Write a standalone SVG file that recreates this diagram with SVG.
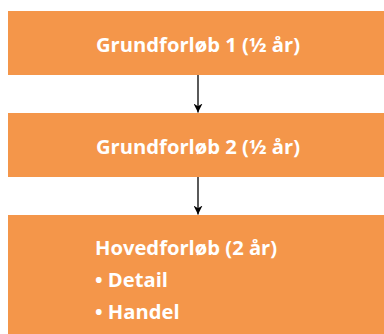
<svg xmlns="http://www.w3.org/2000/svg" width="384" height="334" viewBox="0 0 384 334">
<style>
.box{fill:#F4964A}
.t{font-family:"Open Sans","Noto Sans",sans-serif;font-weight:bold;font-size:20.2px;fill:#fff}
.c{stroke:#000;stroke-width:1.3;fill:none}
</style>
<defs>
<marker id="ah" viewBox="0 0 10 10" refX="10" refY="5" markerWidth="9" markerHeight="9" markerUnits="userSpaceOnUse" orient="auto">
<path d="M0,0 L10,5 L0,10 L3,5 z" fill="#000"/>
</marker>
</defs>
<rect width="384" height="334" fill="#fff"/>
<g id="n1"><rect class="box" x="8" y="11" width="376" height="64"/><text class="t" x="198" y="52" text-anchor="middle">Grundforløb 1 (½ år)</text></g>
<g id="n2"><rect class="box" x="8" y="113" width="376" height="64"/><text class="t" x="198" y="154" text-anchor="middle">Grundforløb 2 (½ år)</text></g>
<g id="n3"><rect class="box" x="8" y="215" width="376" height="119"/><text class="t" x="95" y="255">Hovedforløb (2 år)</text><text class="t" x="95" y="287">• Detail</text><text class="t" x="95" y="319">• Handel</text></g>
<g id="connectors">
<line class="c" x1="198" y1="75" x2="198" y2="112.5" marker-end="url(#ah)"/>
<line class="c" x1="198" y1="177" x2="198" y2="214.5" marker-end="url(#ah)"/>
</g>
</svg>
